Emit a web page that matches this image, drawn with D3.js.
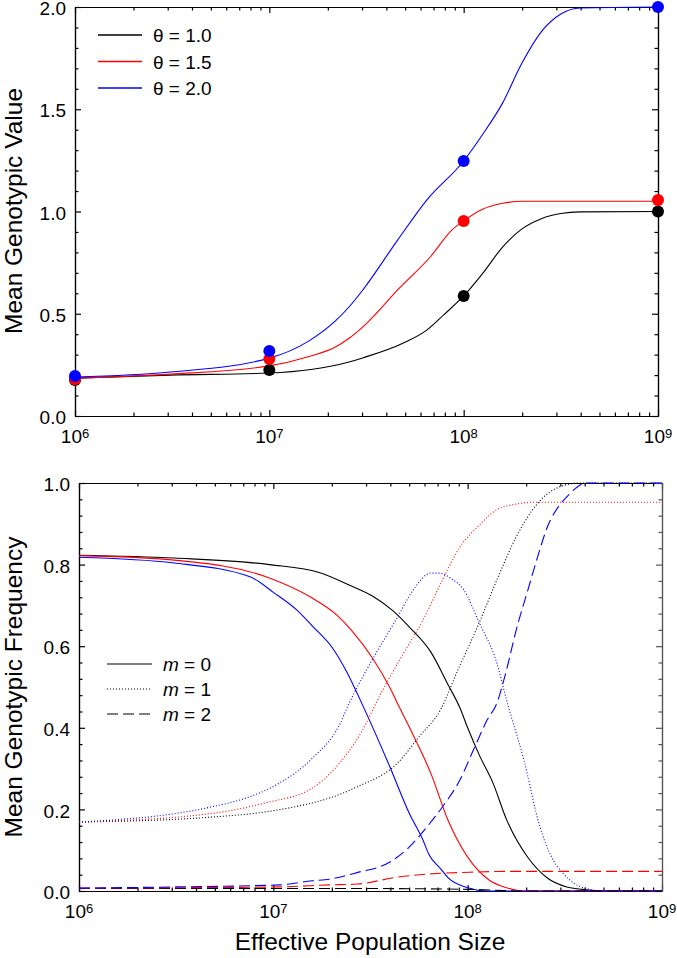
<!DOCTYPE html>
<html><head><meta charset="utf-8">
<script src="https://cdn.jsdelivr.net/npm/d3@7/dist/d3.min.js"></script>
<style>
body{margin:0;background:#fff}
text{font-family:"Liberation Sans",Arial,Helvetica,sans-serif;fill:#000}
</style>
</head><body>
<svg id="c" width="677" height="958"></svg>
<script>
// ---------- DATA ----------
const xMajorTicks = [1e6, 1e7, 1e8, 1e9];
const xTickExponents = ["6", "7", "8", "9"];
const topYTicks = [0, 0.5, 1.0, 1.5, 2.0];
const bottomYTicks = [0, 0.2, 0.4, 0.6, 0.8, 1.0];
const seriesColors = ["#000000", "#ff0000", "#0000ff"];
const thetaLabels = ["\u03b8 = 1.0", "\u03b8 = 1.5", "\u03b8 = 2.0"];
const mLabels = ["0", "1", "2"];

// Top panel curves (log10 N, mean genotypic value)
const topBlackLogN = [6.0, 6.49, 7.0, 7.41, 7.48, 7.69, 7.81, 7.9, 8.0, 8.1, 8.2, 8.3, 8.4, 8.5, 8.6, 9.0];
const topBlackVal  = [0.185, 0.20, 0.21, 0.264, 0.284, 0.357, 0.42, 0.497, 0.587, 0.70, 0.826, 0.915, 0.965, 0.99, 0.998, 1.0];
const topRedLogN = [6.0, 6.49, 7.0, 7.2, 7.34, 7.41, 7.48, 7.67, 7.83, 7.94, 8.0, 8.1, 8.2, 8.3, 9.0];
const topRedVal  = [0.185, 0.205, 0.245, 0.29, 0.337, 0.38, 0.435, 0.626, 0.78, 0.91, 0.954, 1.012, 1.04, 1.05, 1.05];
const topBlueLogN = [6.0, 6.49, 7.0, 7.2, 7.34, 7.41, 7.48, 7.66, 7.81, 8.0, 8.1, 8.2, 8.3, 8.4, 8.5, 8.6, 9.0];
const topBlueVal  = [0.19, 0.215, 0.283, 0.365, 0.465, 0.533, 0.615, 0.86, 1.056, 1.247, 1.38, 1.53, 1.726, 1.88, 1.966, 1.995, 2.0];

// Top panel dots at each decade
const dotLogN = [6, 7, 8, 9];
const dotBlack = [0.176, 0.225, 0.587, 1.0];
const dotRed   = [0.18, 0.279, 0.954, 1.056];
const dotBlue  = [0.196, 0.318, 1.247, 2.0];

// Bottom panel: m = 0 (solid)
const m0BlackLogN = [6.0, 6.49, 6.98, 7.24, 7.39, 7.51, 7.61, 7.70, 7.81, 7.90, 7.96, 8.0, 8.06, 8.13, 8.20, 8.31, 8.41, 8.51, 8.59, 8.7, 9.0];
const m0BlackVal  = [0.823, 0.816, 0.80, 0.78, 0.75, 0.723, 0.689, 0.647, 0.586, 0.505, 0.449, 0.40, 0.333, 0.265, 0.175, 0.082, 0.032, 0.01, 0.004, 0.0, 0.0];
const m0RedLogN = [6.0, 6.49, 6.98, 7.2, 7.33, 7.40, 7.51, 7.60, 7.65, 7.72, 7.81, 7.90, 8.0, 8.11, 8.20, 8.29, 9.0];
const m0RedVal  = [0.822, 0.811, 0.767, 0.718, 0.675, 0.64, 0.571, 0.498, 0.449, 0.382, 0.289, 0.172, 0.083, 0.027, 0.008, 0.0, 0.0];
const m0BlueLogN = [6.0, 6.49, 6.88, 7.0, 7.12, 7.2, 7.31, 7.38, 7.46, 7.60, 7.70, 7.77, 7.80, 7.86, 7.90, 8.0, 8.10, 9.0];
const m0BlueVal  = [0.818, 0.804, 0.77, 0.732, 0.689, 0.65, 0.592, 0.535, 0.455, 0.304, 0.19, 0.125, 0.09, 0.055, 0.032, 0.008, 0.0, 0.0];

// Bottom panel: m = 1 (dotted)
const m1BlackLogN = [6.0, 6.68, 6.96, 7.2, 7.29, 7.43, 7.64, 7.75, 7.86, 7.95, 8.05, 8.15, 8.25, 8.36, 8.47, 8.58, 9.0];
const m1BlackVal  = [0.169, 0.181, 0.194, 0.216, 0.228, 0.255, 0.314, 0.378, 0.444, 0.542, 0.647, 0.762, 0.868, 0.95, 0.99, 1.0, 1.0];
const m1RedLogN = [6.0, 6.68, 6.96, 7.2, 7.31, 7.45, 7.56, 7.67, 7.77, 7.87, 7.96, 8.05, 8.18, 8.36, 9.0];
const m1RedVal  = [0.169, 0.19, 0.216, 0.252, 0.297, 0.387, 0.49, 0.583, 0.664, 0.762, 0.843, 0.892, 0.941, 0.953, 0.953];
const m1BlueLogN = [6.0, 6.68, 6.86, 7.03, 7.2, 7.34, 7.39, 7.50, 7.64, 7.72, 7.81, 7.86, 7.91, 7.98, 8.06, 8.15, 8.20, 8.29, 8.37, 8.43, 8.49, 8.55, 8.62, 8.7, 9.0];
const m1BlueVal  = [0.169, 0.206, 0.228, 0.264, 0.325, 0.407, 0.46, 0.559, 0.672, 0.738, 0.779, 0.779, 0.767, 0.738, 0.657, 0.559, 0.468, 0.32, 0.16, 0.085, 0.044, 0.018, 0.005, 0.0, 0.0];

// Bottom panel: m = 2 (dashed)
const m2BlackLogN = [6.0, 7.5, 8.0, 8.3, 9.0];
const m2BlackVal  = [0.006, 0.006, 0.004, 0.0, 0.0];
const m2RedLogN = [6.0, 6.5, 7.03, 7.29, 7.43, 7.64, 7.81, 8.01, 8.2, 9.0];
const m2RedVal  = [0.007, 0.008, 0.01, 0.015, 0.017, 0.034, 0.042, 0.046, 0.048, 0.048];
const m2BlueLogN = [6.0, 6.5, 7.03, 7.2, 7.29, 7.43, 7.60, 7.70, 7.79, 7.87, 7.96, 8.03, 8.10, 8.15, 8.20, 8.25, 8.31, 8.36, 8.41, 8.48, 8.51, 8.61, 9.0];
const m2BlueVal  = [0.007, 0.01, 0.015, 0.025, 0.029, 0.045, 0.071, 0.108, 0.157, 0.206, 0.272, 0.346, 0.419, 0.46, 0.542, 0.64, 0.738, 0.819, 0.892, 0.95, 0.966, 1.0, 1.0];

// ---------- DRAW ----------
const svg = d3.select("#c");
const tickFont = 19, supFont = 13, titleFont = 24.5, legendFont = 19;

const topX = d3.scaleLog().domain([1e6, 1e9]).range([75, 658]);
const topY = d3.scaleLinear().domain([0, 2]).range([416, 7]);
const botX = d3.scaleLog().domain([1e6, 1e9]).range([79, 662]);
const botY = d3.scaleLinear().domain([0, 1]).range([891, 483]);

const xMinorTicks = [];
[6, 7, 8].forEach(e => { for (let k = 2; k <= 9; k++) xMinorTicks.push(k * Math.pow(10, e)); });

function drawFrame(x, y, yMajor, yMinorStep, yFmt, rightColor) {
  const [x0, x1] = x.range();
  const [yb, yt] = y.range();
  const yMinor = d3.range(y.domain()[0], y.domain()[1] + 1e-9, yMinorStep).filter(v => !yMajor.some(m => Math.abs(m - v) < 1e-9));
  const g = svg.append("g");
  const style = sel => { sel.selectAll("path,line").attr("stroke", "#000").attr("stroke-width", 1.2); sel.selectAll("text").remove(); };
  g.append("g").attr("transform", `translate(0,${yb})`)
    .call(d3.axisBottom(x).tickValues(xMajorTicks).tickSizeInner(-6).tickSizeOuter(0).tickFormat("")).call(style);
  g.append("g").attr("transform", `translate(0,${yb})`)
    .call(d3.axisBottom(x).tickValues(xMinorTicks).tickSizeInner(-3.5).tickSizeOuter(0).tickFormat("")).call(style);
  g.append("g").attr("transform", `translate(0,${yt})`)
    .call(d3.axisTop(x).tickValues(xMajorTicks).tickSizeInner(-6).tickSizeOuter(0).tickFormat("")).call(style);
  g.append("g").attr("transform", `translate(0,${yt})`)
    .call(d3.axisTop(x).tickValues(xMinorTicks).tickSizeInner(-3.5).tickSizeOuter(0).tickFormat("")).call(style);
  const left = g.append("g").attr("transform", `translate(${x0},0)`)
    .call(d3.axisLeft(y).tickValues(yMajor).tickSizeInner(-6).tickSizeOuter(0).tickPadding(9).tickFormat(yFmt));
  left.selectAll("path,line").attr("stroke", "#000").attr("stroke-width", 1.2);
  left.selectAll("text").attr("font-size", tickFont).attr("font-family", null).attr("fill", "#000").attr("dy", "0.4em");
  g.append("g").attr("transform", `translate(${x0},0)`)
    .call(d3.axisLeft(y).tickValues(yMinor).tickSizeInner(-3.5).tickSizeOuter(0).tickFormat("")).call(style);
  const rs = sel => { sel.selectAll("path,line").attr("stroke", rightColor).attr("stroke-width", 1.2); sel.selectAll("text").remove(); };
  g.append("g").attr("transform", `translate(${x1},0)`)
    .call(d3.axisRight(y).tickValues(yMajor).tickSizeInner(-6).tickSizeOuter(0).tickFormat("")).call(rs);
  g.append("g").attr("transform", `translate(${x1},0)`)
    .call(d3.axisRight(y).tickValues(yMinor).tickSizeInner(-3.5).tickSizeOuter(0).tickFormat("")).call(rs);
  const lab = g.selectAll("text.xl").data(xMajorTicks).join("text")
    .attr("class", "xl").attr("x", d => x(d)).attr("y", yb + 27)
    .attr("text-anchor", "middle").attr("font-size", tickFont);
  lab.append("tspan").text("10");
  lab.append("tspan").attr("font-size", supFont).attr("dy", -5.5).text((d, i) => xTickExponents[i]);
  return g;
}

drawFrame(topX, topY, topYTicks, 0.1, d3.format(".1f"), "#000");
drawFrame(botX, botY, bottomYTicks, 0.04, d3.format(".1f"), "#555");

// Axis titles
svg.append("text").attr("transform", "translate(22,211) rotate(-90)")
  .attr("text-anchor", "middle").attr("font-size", titleFont).text("Mean Genotypic Value");
svg.append("text").attr("transform", "translate(22,687) rotate(-90)")
  .attr("text-anchor", "middle").attr("font-size", titleFont).text("Mean Genotypic Frequency");
svg.append("text").attr("x", 370).attr("y", 950)
  .attr("text-anchor", "middle").attr("font-size", titleFont).text("Effective Population Size");

function lineFor(x, y) {
  return d3.line().x(d => x(Math.pow(10, d[0]))).y(d => y(d[1])).curve(d3.curveMonotoneX);
}
const topLine = lineFor(topX, topY);
const topSeries = [[topBlackLogN, topBlackVal], [topRedLogN, topRedVal], [topBlueLogN, topBlueVal]];
topSeries.forEach((s, i) => {
  svg.append("path").datum(d3.zip(s[0], s[1])).attr("d", topLine)
    .attr("fill", "none").attr("stroke", seriesColors[i]).attr("stroke-width", 1.1);
});
[dotBlack, dotRed, dotBlue].forEach((vals, i) => {
  svg.append("g").selectAll("circle").data(d3.zip(dotLogN, vals)).join("circle")
    .attr("cx", d => topX(Math.pow(10, d[0]))).attr("cy", d => topY(d[1])).attr("r", 6)
    .attr("fill", seriesColors[i]);
});

// Top legend
thetaLabels.forEach((t, i) => {
  const yy = 35 + i * 26.5;
  svg.append("line").attr("x1", 98).attr("x2", 142).attr("y1", yy).attr("y2", yy)
    .attr("stroke", seriesColors[i]).attr("stroke-width", 1.3);
  svg.append("text").attr("x", 153).attr("y", yy + 7).attr("font-size", legendFont).text(t);
});

// Bottom curves
const botLine = lineFor(botX, botY);
const dashStyles = [null, "1,2", "11,5"];
const botSeries = [
  [[m0BlackLogN, m0BlackVal], [m0RedLogN, m0RedVal], [m0BlueLogN, m0BlueVal]],
  [[m1BlackLogN, m1BlackVal], [m1RedLogN, m1RedVal], [m1BlueLogN, m1BlueVal]],
  [[m2BlackLogN, m2BlackVal], [m2RedLogN, m2RedVal], [m2BlueLogN, m2BlueVal]]
];
botSeries.forEach((group, m) => {
  group.forEach((s, i) => {
    svg.append("path").datum(d3.zip(s[0], s[1])).attr("d", botLine)
      .attr("fill", "none").attr("stroke", seriesColors[i]).attr("stroke-width", 1.1)
      .attr("stroke-dasharray", dashStyles[m]);
  });
});

// Bottom legend
mLabels.forEach((t, i) => {
  const yy = 664 + i * 25;
  svg.append("line").attr("x1", 107).attr("x2", 152).attr("y1", yy).attr("y2", yy)
    .attr("stroke", "#000").attr("stroke-width", 1.2).attr("stroke-dasharray", dashStyles[i]);
  const tx = svg.append("text").attr("x", 163).attr("y", yy + 7).attr("font-size", legendFont);
  tx.append("tspan").attr("font-style", "italic").text("m");
  tx.append("tspan").text(" = " + t);
});
</script>
</body></html>
